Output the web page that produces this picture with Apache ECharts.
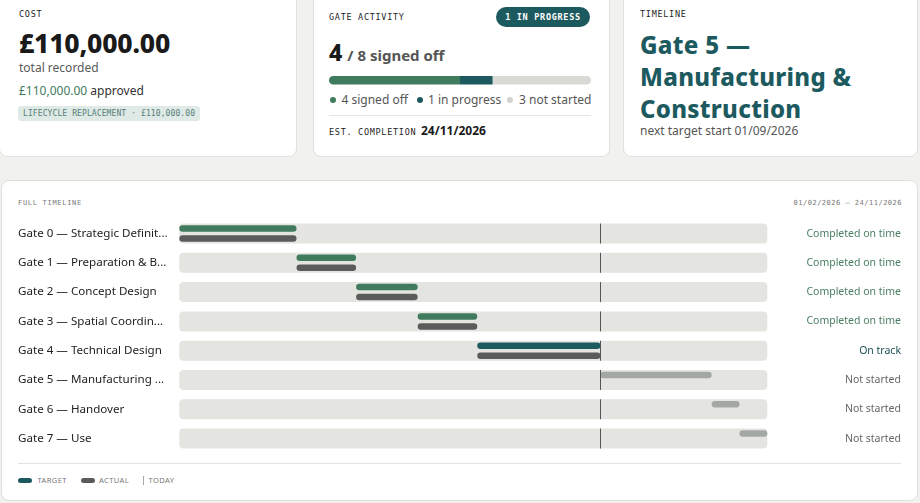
<!DOCTYPE html>
<html><head><meta charset="utf-8">
<script src="https://cdn.jsdelivr.net/npm/echarts@6/dist/echarts.min.js"></script>
<style>
html,body{margin:0;padding:0;width:920px;height:503px;overflow:hidden;background:#f1f1ef;font-family:'Noto Sans',sans-serif;color:#222;}
.card{position:absolute;background:#fff;border:1px solid #e0e0dd;border-radius:8px;box-sizing:border-box;}
.t{position:absolute;white-space:nowrap;}
.mono{font-family:'DejaVu Sans Mono',monospace;}
.cap{font-size:8.5px;line-height:12px;letter-spacing:0.7px;color:#1e1e1e;}
.dot{position:absolute;width:6px;height:6px;border-radius:3px;}
#chart{position:absolute;left:0;top:0;width:920px;height:503px;}
</style></head><body>

<!-- Cost card -->
<div class="card" style="left:-1px;top:-8px;width:298px;height:165px"></div>
<div class="t mono cap" style="left:19px;top:8px">COST</div>
<div class="t" style="left:19px;top:27.5px;font-size:26.5px;line-height:30px;font-weight:800;color:#1a1a1a;letter-spacing:-0.2px">£110,000.00</div>
<div class="t" style="left:19px;top:60px;font-size:12px;line-height:16px;color:#5a5a5a">total recorded</div>
<div class="t" style="left:19px;top:82.5px;font-size:12px;line-height:16px;color:#333"><span style="color:#3f7b5c">£110,000.00</span> approved</div>
<div class="t mono" style="left:18px;top:106px;height:15px;line-height:15px;padding:0 5px;border-radius:3px;background:#dfe9e6;color:#56807a;font-size:8px;letter-spacing:0.1px">LIFECYCLE REPLACEMENT · £110,000.00</div>

<!-- Gate activity card -->
<div class="card" style="left:313px;top:-8px;width:297px;height:165px"></div>
<div class="t mono cap" style="left:329px;top:10.5px">GATE ACTIVITY</div>
<div class="t mono" style="left:496px;top:7px;width:94px;height:20px;line-height:20px;text-align:center;border-radius:10px;background:#1d5a60;color:#fff;font-size:8.5px;font-weight:bold;letter-spacing:0.7px">1 IN PROGRESS</div>
<div class="t" style="left:329px;top:38.5px;line-height:26px;color:#1a1a1a"><span style="font-size:23px;font-weight:800">4</span><span style="font-size:15px;font-weight:700;color:#555;margin-left:5px">/ 8 signed off</span></div>
<div class="dot" style="left:330px;top:97px;background:#3f7b5c"></div>
<div class="t" style="left:341.5px;top:92px;font-size:12px;line-height:16px;color:#555">4 signed off</div>
<div class="dot" style="left:417px;top:97px;background:#1d5a60"></div>
<div class="t" style="left:428px;top:92px;font-size:12px;line-height:16px;color:#555">1 in progress</div>
<div class="dot" style="left:507px;top:97px;background:#d3d3d0"></div>
<div class="t" style="left:519px;top:92px;font-size:12px;line-height:16px;color:#555">3 not started</div>
<div class="t" style="left:329px;top:115px;width:262px;height:1px;background:#e6e6e3"></div>
<div class="t mono cap" style="left:329px;top:125.5px">EST. COMPLETION</div>
<div class="t" style="left:421px;top:123px;font-size:12px;line-height:16px;font-weight:700;color:#1a1a1a">24/11/2026</div>

<!-- Timeline card -->
<div class="card" style="left:623px;top:-8px;width:295px;height:165px"></div>
<div class="t mono cap" style="left:640px;top:8px">TIMELINE</div>
<div class="t" style="left:640px;top:28.5px;width:262px;white-space:normal;font-size:24px;line-height:32px;font-weight:800;color:#1d5a60;letter-spacing:0.3px">Gate 5 — Manufacturing &amp; Construction</div>
<div class="t" style="left:640px;top:123px;font-size:12px;line-height:16px;color:#555">next target start 01/09/2026</div>

<!-- Full timeline card -->
<div class="card" style="left:1px;top:180px;width:917px;height:321px"></div>
<div class="t mono" style="left:18px;top:198.3px;font-size:7px;line-height:10px;letter-spacing:0.7px;color:#777">FULL TIMELINE</div>
<div class="t mono" style="right:18px;top:198.3px;font-size:7px;line-height:10px;letter-spacing:0.5px;color:#777">01/02/2026 – 24/11/2026</div>
<div class="t" style="left:18px;top:463px;width:883px;height:1px;background:#e3e3e0"></div>
<div class="t" style="left:18px;top:477.5px;width:14px;height:5px;border-radius:3px;background:#1d5a60"></div>
<div class="t" style="left:37.5px;top:475px;font-size:7.5px;line-height:10px;letter-spacing:0.4px;color:#777">TARGET</div>
<div class="t" style="left:81px;top:477.5px;width:14px;height:5px;border-radius:3px;background:#5b5b5b"></div>
<div class="t" style="left:99px;top:475px;font-size:7.5px;line-height:10px;letter-spacing:0.4px;color:#777">ACTUAL</div>
<div class="t" style="left:142.5px;top:475.5px;width:1px;height:9px;background:#aaa"></div>
<div class="t" style="left:148.5px;top:475px;font-size:7.5px;line-height:10px;letter-spacing:0.4px;color:#777">TODAY</div>

<div id="chart"></div>
<script>
// ---- data ----
const gates = [
  'Gate 0 — Strategic Definition',
  'Gate 1 — Preparation & Briefing',
  'Gate 2 — Concept Design',
  'Gate 3 — Spatial Coordination',
  'Gate 4 — Technical Design',
  'Gate 5 — Manufacturing & Construction',
  'Gate 6 — Handover',
  'Gate 7 — Use'
];
const gateState = ['done','done','done','done','active','pending','pending','pending'];
const statuses = ['Completed on time','Completed on time','Completed on time','Completed on time','On track','Not started','Not started','Not started'];
const targetStart = ['2026-02-01','2026-04-01','2026-05-01','2026-06-01','2026-07-01','2026-09-01','2026-10-27','2026-11-10'];
const targetEnd   = ['2026-04-01','2026-05-01','2026-06-01','2026-07-01','2026-09-01','2026-10-27','2026-11-10','2026-11-24'];
const actualStart = ['2026-02-01','2026-04-01','2026-05-01','2026-06-01','2026-07-01',null,null,null];
const actualEnd   = ['2026-04-01','2026-05-01','2026-06-01','2026-07-01','2026-09-01',null,null,null];
const timelineStart = '2026-02-01';
const timelineEnd = '2026-11-24';
const today = '2026-09-01';
const progressLabels = ['signed off','in progress','not started'];
const progressCounts = [4, 1, 3];

// ---- helpers ----
const ts = s => { const [y,m,d] = s.split('-').map(Number); return Date.UTC(y, m-1, d); };
const xMin = ts(timelineStart), xMax = ts(timelineEnd), tToday = ts(today);
const stateColor = {done:'#3f7b5c', active:'#1d5a60', pending:'#a4a8a4'};
const statusColor = {done:'#4b7f63', active:'#1e4f56', pending:'#666666'};
const progressColors = ['#3f7b5c','#1d5a60','#d9d9d6'];
const FONT = 'Noto Sans';

const targetData = gates.map((g,i)=>[i, ts(targetStart[i]), ts(targetEnd[i]), gateState[i]]);
const actualData = gates.map((g,i)=>actualStart[i] ? [i, ts(actualStart[i]), ts(actualEnd[i])] : null).filter(Boolean);

function barItem(offset, colorFn){
  return function(params, api){
    const i = api.value(0);
    const a = api.coord([api.value(1), i]);
    const b = api.coord([api.value(2), i]);
    const h = 6.5;
    return {type:'rect', shape:{x:a[0], y:a[1]+offset-h/2, width:Math.max(b[0]-a[0],h), height:h, r:h/2},
            style:{fill: colorFn(api, i)}};
  };
}

const rich = {};
['done','active','pending'].forEach(k=>{ rich[k] = {color:statusColor[k], fontSize:10.5, fontFamily:FONT}; });

const chart = echarts.init(document.getElementById('chart'), null, {renderer:'canvas'});
chart.setOption({
  animation:false,
  grid:[
    {left:179.3, right:152.7, top:218.9, height:234.3},
    {left:329, top:76, width:262, height:8.5}
  ],
  xAxis:[
    {type:'time', gridIndex:0, min:xMin, max:xMax, show:false},
    {type:'value', gridIndex:1, min:0, max:progressCounts.reduce((a,b)=>a+b,0), show:false}
  ],
  yAxis:[
    {type:'category', gridIndex:0, data:gates, inverse:true,
     axisLine:{show:false}, axisTick:{show:false}, splitLine:{show:false},
     axisLabel:{align:'left', margin:161.3, width:151, overflow:'truncate', ellipsis:'...',
                fontSize:11.6, color:'#222', fontFamily:FONT}},
    {type:'category', gridIndex:0, data:statuses, inverse:true, position:'right',
     axisLine:{show:false}, axisTick:{show:false}, splitLine:{show:false},
     axisLabel:{align:'right', margin:133.7, fontSize:10.5, fontFamily:FONT,
                formatter:(v,i)=>'{'+gateState[i]+'|'+v+'}', rich:rich}},
    {type:'category', gridIndex:1, data:['gates'], show:false}
  ],
  series:[
    {type:'custom', name:'track', xAxisIndex:0, yAxisIndex:0, z:1,
     data:gates.map((g,i)=>[i]),
     renderItem:(params, api)=>{
       const i = api.value(0);
       const a = api.coord([xMin, i]), b = api.coord([xMax, i]);
       return {type:'rect', shape:{x:a[0], y:a[1]-10, width:b[0]-a[0], height:20, r:4}, style:{fill:'#e4e4e1'}};
     }},
    {type:'custom', name:'Target', xAxisIndex:0, yAxisIndex:0, z:2,
     data:targetData, renderItem:barItem(-5, (api,i)=>stateColor[gateState[i]])},
    {type:'custom', name:'Actual', xAxisIndex:0, yAxisIndex:0, z:2,
     data:actualData, renderItem:barItem(5, ()=>'#5b5b5b')},
    {type:'custom', name:'Today', xAxisIndex:0, yAxisIndex:0, z:3,
     data:gates.map((g,i)=>[i]),
     renderItem:(params, api)=>{
       const i = api.value(0);
       const p = api.coord([tToday, i]);
       const x = Math.round(p[0]) + 0.5;
       return {type:'line', shape:{x1:x, y1:p[1]-10, x2:x, y2:p[1]+10}, style:{stroke:'#555', lineWidth:1}};
     }},
    ...progressCounts.map((c, k)=>({
      type:'bar', name:progressLabels[k], stack:'progress', xAxisIndex:1, yAxisIndex:2,
      barWidth:8.5, data:[c],
      itemStyle:{color:progressColors[k],
                 borderRadius: k===0 ? [4.25,0,0,4.25] : (k===progressCounts.length-1 ? [0,4.25,4.25,0] : 0)}
    }))
  ]
});
</script>
</body></html>
